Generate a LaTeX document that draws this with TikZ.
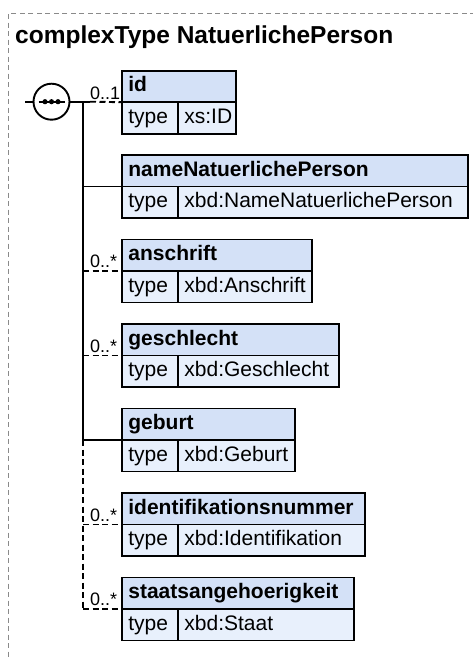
\documentclass[tikz,border=0pt]{standalone}
\usepackage{fontspec}
\setmainfont{Liberation Sans}
\definecolor{hdrblue}{HTML}{D4E1F7}
\definecolor{rowblue}{HTML}{E8F0FC}
\definecolor{framegray}{HTML}{8A8A8A}
\tikzset{
  hdrbox/.style={draw, line width=1.9pt, fill=hdrblue, minimum height=31.5pt, inner sep=0pt, outer sep=0pt},
  rowbox/.style={draw, line width=1.9pt, fill=rowblue, minimum height=31.5pt, inner sep=0pt, outer sep=0pt},
  nametxt/.style={inner sep=0pt, anchor=base west, font=\fontsize{21}{25}\selectfont\bfseries},
  valtxt/.style={inner sep=0pt, anchor=base west, font=\fontsize{21}{25}\selectfont},
  multtxt/.style={inner sep=0pt, anchor=base west, font=\fontsize{18}{21}\selectfont},
  conn/.style={line width=1.9pt},
  dashconn/.style={line width=1.9pt, dash pattern=on 6pt off 3.5pt},
  framebox/.style={draw=framegray, line width=1pt, dash pattern=on 5pt off 3.5pt},
}
\newcommand{\xelem}[5]{%
  \node[hdrbox, minimum width={#3-121.7}, anchor=north west] (#1-h) at (121.7,#2) {};
  \node[rowbox, minimum width=56, anchor=north west] (#1-t) at (#1-h.south west) {};
  \node[rowbox, minimum width={#3-177.7}, anchor=north west] (#1-v) at (#1-t.north east) {};
  \node[nametxt] (#1-n) at ([xshift=6.5pt,yshift=-21pt]#1-h.north west) {#4};
  \node[valtxt] (#1-tl) at ([xshift=6.5pt,yshift=-21pt]#1-t.north west) {type};
  \node[valtxt] (#1-vl) at ([xshift=6.5pt,yshift=-21pt]#1-v.north west) {#5};
}
\begin{document}
\begin{tikzpicture}[x=1pt,y=-1pt]
\useasboundingbox (0,0) rectangle (472,659);
\fill[white] (0,0) rectangle (472,659);
% frame
\coordinate (frTR) at (475,13.3);
\coordinate (frTL) at (8.3,13.3);
\coordinate (frBL) at (8.3,662);
\draw[framebox] (frTR) -- (frTL) -- (frBL);
% title
\node[inner sep=0pt, anchor=base west, font=\fontsize{24.5}{29}\selectfont\bfseries] (title) at (15,43.3) {complexType NatuerlichePerson};
% elements
\xelem{id}{70.7}{236}{id}{xs:ID}
\xelem{name}{155}{468.3}{nameNatuerlichePerson}{xbd:NameNatuerlichePerson}
\xelem{ansch}{239.5}{312.3}{anschrift}{xbd:Anschrift}
\xelem{geschl}{324}{339}{geschlecht}{xbd:Geschlecht}
\xelem{geb}{408.5}{295}{geburt}{xbd:Geburt}
\xelem{ident}{493}{365}{identifikationsnummer}{xbd:Identifikation}
\xelem{staat}{577.5}{354}{staatsangehoerigkeit}{xbd:Staat}
% sequence compositor
\node[draw, circle, line width=1.9pt, fill=white, minimum size=36pt, inner sep=0pt] (seq) at (51.5,101.7) {};
\coordinate (seqin) at (25,101.7);
\coordinate (trunk) at (83,101.7);
\coordinate (idsplit) at (90,101.7);
\draw[conn] (seqin) -- (seq.west);
\draw[conn] (seq.east) -- (idsplit);
\coordinate (dotL) at (38.5,101.7);
\coordinate (dotR) at (64.5,101.7);
\draw[line width=1.6pt] (dotL) -- (dotR);
\fill (45,101.7) circle (2.6pt);
\fill (51.5,101.7) circle (2.6pt);
\fill (58,101.7) circle (2.6pt);
% trunk
\draw[conn] (trunk) -- (trunk |- geb-h.south west);
\draw[dashconn] (trunk |- geb-h.south west) -- (trunk |- staat-h.south west);
% branches
\draw[dashconn] (idsplit) -- (id-h.south west);
\draw[conn] (trunk |- name-h.south west) -- (name-h.south west);
\draw[dashconn] (trunk |- ansch-h.south west) -- (ansch-h.south west);
\draw[dashconn] (trunk |- geschl-h.south west) -- (geschl-h.south west);
\draw[conn] (trunk |- geb-h.south west) -- (geb-h.south west);
\draw[dashconn] (trunk |- ident-h.south west) -- (ident-h.south west);
\draw[dashconn] (trunk |- staat-h.south west) -- (staat-h.south west);
% multiplicities
\node[multtxt] (m-id) at (90,99) {0..1};
\node[multtxt] (m-ansch) at (90,267.5) {0..*};
\node[multtxt] (m-geschl) at (90,352) {0..*};
\node[multtxt] (m-ident) at (90,521) {0..*};
\node[multtxt] (m-staat) at (90,605.5) {0..*};
\end{tikzpicture}
\end{document}
